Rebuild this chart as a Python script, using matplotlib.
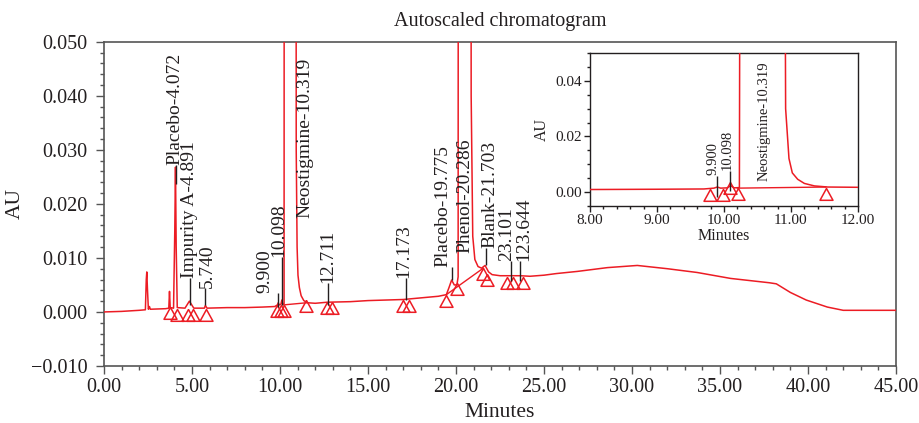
import numpy as np
import matplotlib
matplotlib.use("Agg")
import matplotlib.pyplot as plt
from matplotlib.ticker import MultipleLocator, FuncFormatter

plt.rcParams['font.family'] = ['Liberation Serif', 'DejaVu Serif']

# chromatogram trace (minutes, AU)
time_min = [0.00, 1.00, 2.00, 2.35, 2.40, 2.43, 2.47, 2.52, 2.58, 2.63,
            3.50, 3.68, 3.72, 3.76, 3.95, 4.02, 4.06, 4.10, 4.16, 4.60,
            4.85, 5.10, 5.70, 5.76, 5.85, 7.00, 8.00, 9.00, 9.70, 9.85,
            9.90, 9.95, 10.05, 10.10, 10.15, 10.23, 10.27, 10.85, 10.92, 10.97,
            11.02, 11.10, 11.20, 11.35, 11.55, 12.00, 12.70, 14.00, 15.00, 16.00,
            17.00, 18.00, 19.00, 19.45, 19.60, 19.75, 19.90, 20.05, 20.12, 20.16,
            20.78, 20.86, 20.95, 21.07, 21.25, 21.45, 21.65, 21.85, 22.05, 22.50,
            23.10, 23.65, 24.20, 25.00, 25.70, 26.90, 28.60, 30.30, 32.00, 33.70,
            35.60, 37.80, 38.20, 39.00, 39.90, 41.10, 42.00, 45.00]
au = [0.0000, 0.0001, 0.0003, 0.0004, 0.0060, 0.0074, 0.0040, 0.0005, 0.0010, 0.0005,
      0.0006, 0.0007, 0.0038, 0.0008, 0.0007, 0.0150, 0.0268, 0.0120, 0.0008, 0.0007,
      0.0020, 0.0007, 0.0007, 0.0012, 0.0007, 0.0008, 0.0008, 0.0009, 0.0010, 0.0013,
      0.0017, 0.0013, 0.0014, 0.0022, 0.0014, 0.0015, 0.5000, 0.5000, 0.0300, 0.0120,
      0.0068, 0.0045, 0.0030, 0.0021, 0.0017, 0.0016, 0.0018, 0.0019, 0.0021, 0.0022,
      0.0023, 0.0026, 0.0029, 0.0032, 0.0045, 0.0059, 0.0050, 0.0050, 0.0065, 0.5000,
      0.5000, 0.0400, 0.0140, 0.0097, 0.0084, 0.0081, 0.0086, 0.0074, 0.0069, 0.0067,
      0.0067, 0.0067, 0.0066, 0.0068, 0.0071, 0.0075, 0.0082, 0.0086, 0.0080, 0.0073,
      0.0062, 0.0054, 0.0052, 0.0036, 0.0022, 0.0009, 0.0003, 0.0003]

# peak start / end markers (triangles)
tri_t = [3.77, 4.17, 4.79, 5.08, 5.80, 9.80, 10.05, 10.25, 11.50, 12.65,
         12.97, 17.01, 17.35, 19.43, 20.04, 21.52, 21.78, 22.88, 23.22, 23.78]
tri_au = [0.0009, 0.0006, 0.0006, 0.0006, 0.0006, 0.0012, 0.0013, 0.0013, 0.0022, 0.0018,
          0.0018, 0.0023, 0.0023, 0.0031, 0.0053, 0.0081, 0.0071, 0.0064, 0.0064, 0.0064]

# dropped integration baselines
drop_t = [[10.20, 11.52], [19.45, 21.55]]
drop_au = [[0.0013, 0.0017], [0.0032, 0.0081]]

# peak label ticks
mark_t = [4.072, 4.891, 5.740, 9.900, 10.098, 12.711, 17.173, 19.775, 21.703, 23.101, 23.644]
mark_lo = [0.0237, 0.0012, 0.0012, 0.0009, 0.0012, 0.0013, 0.0022, 0.0060, 0.0086, 0.0058, 0.0058]
mark_hi = [0.0272, 0.0062, 0.0044, 0.0035, 0.0101, 0.0053, 0.0062, 0.0083, 0.0118, 0.0094, 0.0094]

labels = ["Placebo-4.072", "Impurity A-4.891", "5.740", "9.900", "10.098",
          "Neostigmine-10.319", "12.711", "17.173", "Placebo-19.775",
          "Phenol-20.286", "Blank-21.703", "23.101", "123.644"]
label_t = [4.00, 4.85, 5.90, 9.15, 9.93, 11.43, 12.73, 17.00, 19.26, 20.50, 21.95, 22.86, 23.84]
label_au = [0.0272, 0.0062, 0.0044, 0.0035, 0.0101, 0.0173, 0.0053, 0.0062, 0.0083,
            0.0109, 0.0118, 0.0094, 0.0094]

# inset (zoom on neostigmine)
in_tri_t = [9.79, 9.98, 10.09, 10.21, 11.52]
in_tri_au = [0.0011, 0.0011, 0.0036, 0.0013, 0.0015]
in_mark_t = [9.89, 10.09]
in_mark_lo = [-0.0020, 0.0002]
in_mark_hi = [0.0056, 0.0074]
in_labels = ["9.900", "10.098", "Neostigmine-10.319"]
in_label_t = [9.84, 10.05, 10.60]
in_label_au = [0.0062, 0.0080, 0.0038]

red = '#ec1c24'
ink = '#231f20'
spine_c = '#555555'
tri = [(0, 0), (-0.55, -1), (0.55, -1), (0, 0)]


def fmt(decimals):
    return FuncFormatter(lambda v, p: f"{v:.{decimals}f}".replace('-', '\u2212'))


fig = plt.figure(figsize=(9.19, 4.23), dpi=100)
ax = fig.add_axes([0.1132, 0.1348, 0.8618, 0.7666])

ax.plot(time_min, au, color=red, lw=1.1, zorder=3)
for dt, da in zip(drop_t, drop_au):
    ax.plot(dt, da, color=red, lw=1.0, zorder=3)
ax.plot(tri_t, tri_au, ls='none', marker=tri, ms=17, mfc='none', mec=red, mew=1.1, zorder=4)
ax.vlines(mark_t, mark_lo, mark_hi, color=ink, lw=1.0, zorder=5)
for s, x, y in zip(labels, label_t, label_au):
    ax.text(x, y, s, rotation=90, ha='center', va='bottom', fontsize=14, color=ink, zorder=6)

ax.set_xlim(0, 45)
ax.set_ylim(-0.010, 0.050)
ax.xaxis.set_major_locator(MultipleLocator(5))
ax.xaxis.set_minor_locator(MultipleLocator(1))
ax.yaxis.set_major_locator(MultipleLocator(0.01))
ax.yaxis.set_minor_locator(MultipleLocator(0.002))
ax.xaxis.set_major_formatter(fmt(2))
ax.yaxis.set_major_formatter(fmt(3))
ax.tick_params(which='major', direction='out', length=6, width=1, color=spine_c,
               labelsize=14.5, labelcolor=ink)
ax.tick_params(which='minor', direction='out', length=3, width=1, color=spine_c)
ax.tick_params(axis='y', pad=6)
ax.tick_params(axis='x', pad=3)
for sp in ax.spines.values():
    sp.set_color(spine_c)
    sp.set_linewidth(1.2)
ax.set_xlabel('Minutes', fontsize=15.5, color=ink, labelpad=4)
ax.set_ylabel('AU', fontsize=15.5, color=ink, labelpad=4)
ax.set_title('Autoscaled chromatogram', fontsize=14.5, color=ink, pad=11)

# inset
ins = fig.add_axes([0.642, 0.514, 0.2916, 0.360], zorder=10)
ins.set_facecolor('white')
ins.plot(time_min, au, color=red, lw=1.1, zorder=3)
ins.plot(drop_t[0], drop_au[0], color=red, lw=1.0, zorder=3)
ins.plot(in_tri_t, in_tri_au, ls='none', marker=tri, ms=17, mfc='none', mec=red, mew=1.1, zorder=4)
ins.vlines(in_mark_t, in_mark_lo, in_mark_hi, color=ink, lw=1.0, zorder=5)
for s, x, y in zip(in_labels, in_label_t, in_label_au):
    ins.text(x, y, s, rotation=90, ha='center', va='bottom', fontsize=10.5, color=ink, zorder=6)
ins.set_xlim(8, 12)
ins.set_ylim(-0.005, 0.050)
ins.xaxis.set_major_locator(MultipleLocator(1))
ins.xaxis.set_minor_locator(MultipleLocator(0.2))
ins.yaxis.set_major_locator(MultipleLocator(0.02))
ins.yaxis.set_minor_locator(MultipleLocator(0.005))
ins.xaxis.set_major_formatter(fmt(2))
ins.yaxis.set_major_formatter(fmt(2))
ins.tick_params(which='major', direction='out', length=4, width=1, color=ink,
                labelsize=11, labelcolor=ink, pad=2)
ins.tick_params(which='minor', direction='out', length=2.5, width=1, color=ink)
for sp in ins.spines.values():
    sp.set_color(ink)
    sp.set_linewidth(1.0)
ins.set_xlabel('Minutes', fontsize=11.5, color=ink, labelpad=1)
ins.set_ylabel('AU', fontsize=11.5, color=ink, labelpad=4)

fig.savefig('out.png', dpi=100)
